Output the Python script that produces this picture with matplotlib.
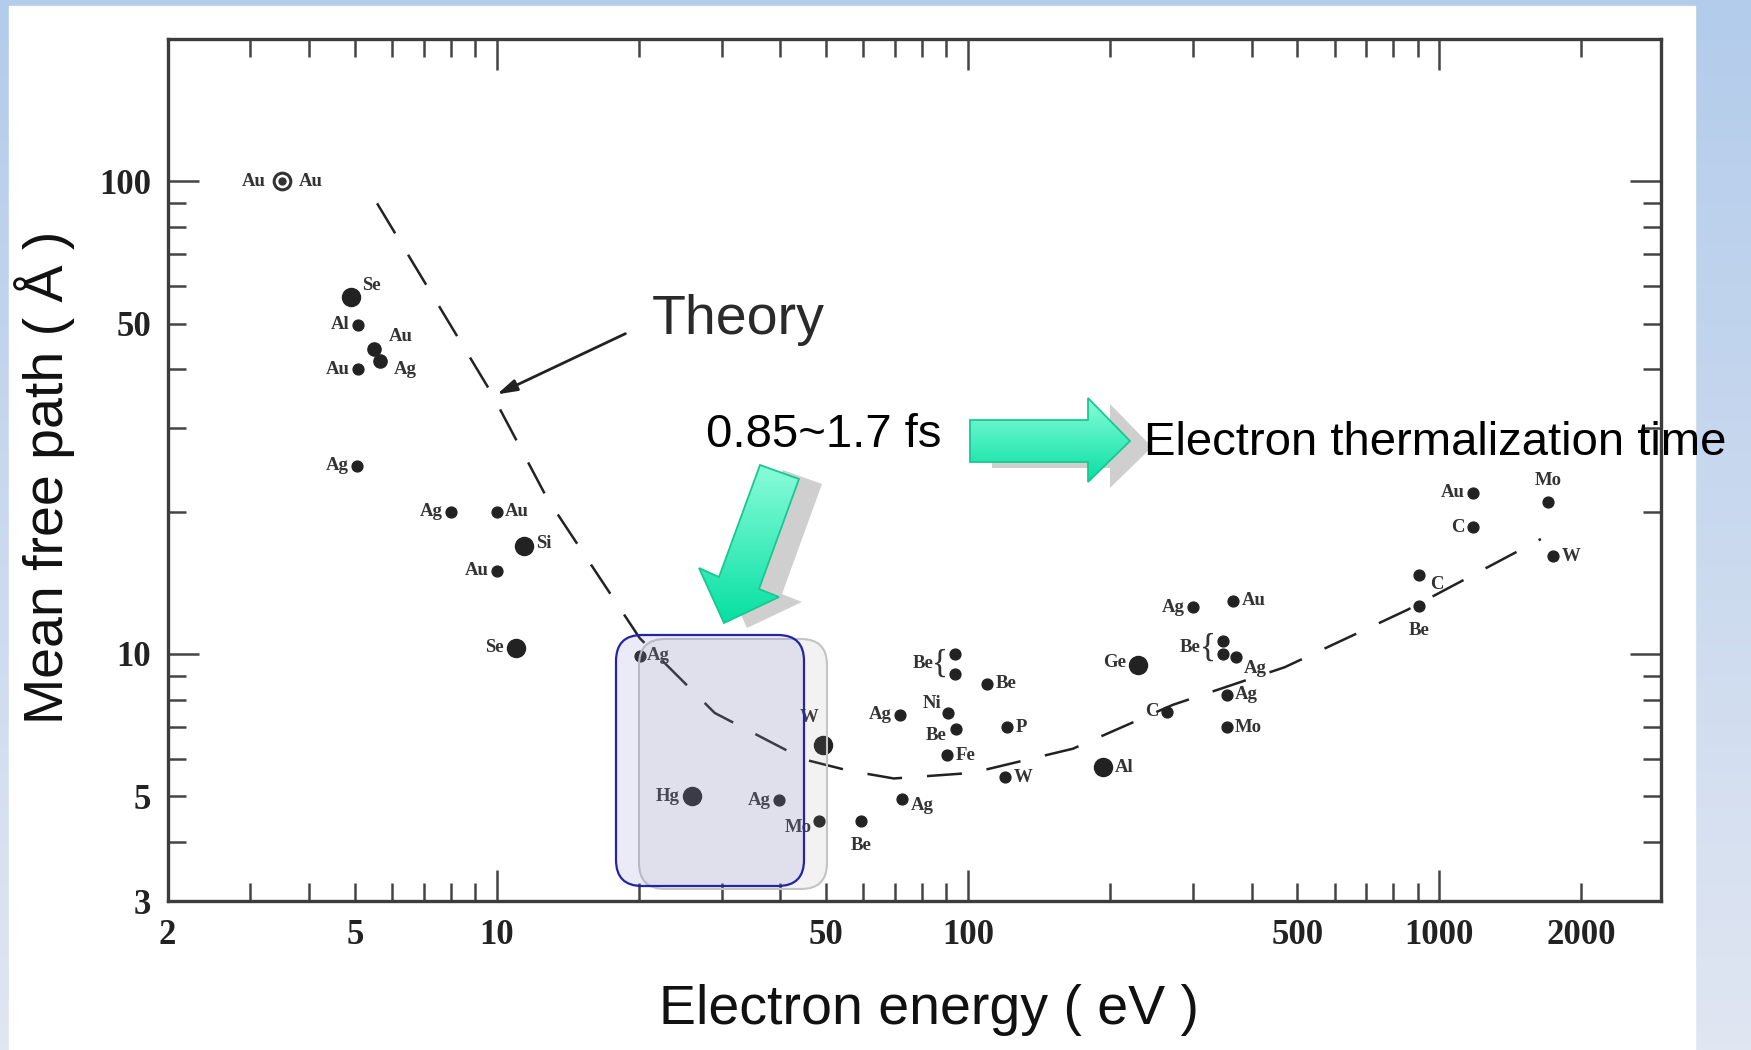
import numpy as np
import matplotlib
matplotlib.use('Agg')
import matplotlib.pyplot as plt
from matplotlib.patches import Polygon, FancyBboxPatch, Rectangle
from matplotlib.colors import LinearSegmentedColormap

plt.rcParams['font.family'] = ['Liberation Sans', 'DejaVu Sans']

# measured points: electron energy (eV), mean free path (A), element
energy = [3.5, 4.9, 5.08, 5.5, 5.66, 5.08, 5.05, 8.0, 10, 11.4, 10, 11,
          20.1, 26, 39.8, 49.3, 48.2, 59.3, 71.8, 90.8, 94.4, 94, 94, 110,
          121, 90.4, 72.6, 120, 193, 230, 264, 301, 366, 347, 347, 370,
          354, 354, 906, 906, 1178, 1178, 1706, 1744]
mfp = [100, 57, 49.7, 44.2, 41.6, 40, 25, 20, 20, 16.9, 15, 10.3,
       9.9, 5.0, 4.9, 6.4, 4.42, 4.42, 7.43, 7.5, 6.95, 10.0, 9.07, 8.64,
       7.0, 6.1, 4.92, 5.48, 5.75, 9.47, 7.55, 12.56, 12.97, 10.67, 10.0, 9.84,
       8.19, 7.0, 14.7, 12.6, 18.55, 21.9, 21.0, 16.1]
element = ['Au', 'Se', 'Al', 'Au', 'Ag', 'Au', 'Ag', 'Ag', 'Au', 'Si', 'Au', 'Se',
           'Ag', 'Hg', 'Ag', 'W', 'Mo', 'Be', 'Ag', 'Ni', 'Be', 'Be', 'Be', 'Be',
           'P', 'Fe', 'Ag', 'W', 'Al', 'Ge', 'C', 'Ag', 'Au', 'Be', 'Be', 'Ag',
           'Ag', 'Mo', 'C', 'Be', 'C', 'Au', 'Mo', 'W']

# theory ("universal curve")
theory_energy = [5.57, 9.73, 12.8, 20.1, 29.0, 44.9, 55.9, 69.6, 102, 167, 272, 470, 857, 1644]
theory_mfp = [89.8, 35.7, 21.3, 10.8, 7.5, 5.98, 5.66, 5.45, 5.6, 6.3, 7.8, 9.37, 12.4, 17.5]

x_major = [10, 100, 1000]
x_minor = [2, 3, 4, 5, 6, 7, 8, 9, 20, 30, 40, 50, 60, 70, 80, 90,
           200, 300, 400, 500, 600, 700, 800, 900, 2000]
x_minor_labels = {2: '2', 5: '5', 50: '50', 500: '500', 2000: '2000'}
y_major = [10, 100]
y_minor = [3, 4, 5, 6, 7, 8, 9, 20, 30, 40, 50, 60, 70, 80, 90]
y_minor_labels = {3: '3', 5: '5', 50: '50'}

# marker style / label placement (offset points, alignment)
big = [1, 9, 11, 13, 15, 28, 29]
medium = [3, 4]
circled = [0]
label_pos = {
    0: [(-12, 0, 'right'), (12, 0, 'left')],
    1: [(8, 8, 'left')], 2: [(-6, 0, 'right')], 3: [(10, 9, 'left')],
    4: [(10, -6, 'left')], 5: [(-6, 0, 'right')], 6: [(-6, 0, 'right')],
    7: [(-6, 0, 'right')], 8: [(6, 0, 'left')], 9: [(9, 2, 'left')],
    10: [(-6, 0, 'right')], 11: [(-9, 0, 'right')], 12: [(5, 0, 'left')],
    13: [(-9, 0, 'right')], 14: [(-6, 0, 'right')], 15: [(-10, 20, 'center')],
    16: [(-5, -4, 'right')], 17: [(0, -17, 'center')], 18: [(-6, 0, 'right')],
    19: [(-5, 7, 'right')], 20: [(-7, -5, 'right')], 23: [(6, 0, 'left')],
    24: [(6, 0, 'left')], 25: [(6, 0, 'left')], 26: [(6, -4, 'left')],
    27: [(6, 0, 'left')], 28: [(9, 0, 'left')], 29: [(-9, 2, 'right')],
    30: [(-6, 0, 'right')], 31: [(-6, 0, 'right')], 32: [(6, 0, 'left')],
    35: [(6, -8, 'left')], 36: [(6, 0, 'left')], 37: [(6, 0, 'left')],
    38: [(8, -7, 'left')], 39: [(0, -17, 'center')], 40: [(-6, 0, 'right')],
    41: [(-6, 0, 'right')], 42: [(0, 15, 'center')], 43: [(6, 0, 'left')],
}
braces = [(21, 22), (33, 34)]

W, H = 1751, 1050
fig = plt.figure(figsize=(W / 100, H / 100), dpi=100)

# slide background
bg = fig.add_axes([0, 0, 1, 1], zorder=0)
grad = np.linspace(0, 1, 256).reshape(-1, 1)
bg_cmap = LinearSegmentedColormap.from_list('bg', ['#b3cceb', '#e0e6f2'])
bg.imshow(grad, cmap=bg_cmap, extent=(0, W, H, 0), aspect='auto', origin='upper')
bg.add_patch(Rectangle((9, 6), 1695 - 9, H - 6, color='white'))
bg.set_xlim(0, W)
bg.set_ylim(H, 0)
bg.axis('off')

# main plot
ax = fig.add_axes([167.5 / W, 1 - 901 / H, (1660.5 - 167.5) / W, (901 - 39) / H], zorder=1)
ax.set_facecolor('none')
ax.set_xscale('log')
ax.set_yscale('log')
ax.set_xlim(2, 2950)
ax.set_ylim(3, 200)

ax.set_xticks(x_major, labels=[str(v) for v in x_major])
ax.set_xticks(x_minor, labels=[x_minor_labels.get(v, '') for v in x_minor], minor=True)
ax.set_yticks(y_major, labels=[str(v) for v in y_major])
ax.set_yticks(y_minor, labels=[y_minor_labels.get(v, '') for v in y_minor], minor=True)
ax.tick_params(which='both', direction='in', top=True, right=True, width=1.8,
               color='#444444', labelcolor='#222222', labelsize=25,
               labelfontfamily='Liberation Serif')
ax.tick_params(which='major', length=22)
ax.tick_params(which='minor', length=13)
ax.tick_params(axis='x', which='both', pad=13)
ax.tick_params(axis='y', which='both', pad=12)
for lab in ax.get_xticklabels(which='both') + ax.get_yticklabels(which='both'):
    lab.set_fontweight('bold')
for sp in ax.spines.values():
    sp.set_linewidth(2.4)
    sp.set_color('#3c3c3c')

ax.plot(theory_energy, theory_mfp, color='#222222', lw=1.8, dashes=(14, 10), zorder=2)

for i, (e, m) in enumerate(zip(energy, mfp)):
    if i in circled:
        ax.plot(e, m, 'o', ms=12, mfc='white', mec='#333333', mew=2.2, zorder=3)
        ax.plot(e, m, 'o', ms=5, color='#333333', zorder=3)
    else:
        ms = 13 if i in big else (9.5 if i in medium else 7.8)
        ax.plot(e, m, 'o', ms=ms, color='#222222', zorder=3)
    for dx, dy, ha in label_pos.get(i, []):
        ax.annotate(element[i], (e, m), xytext=(dx, dy), textcoords='offset points',
                    ha=ha, va='center', fontsize=13.5, fontweight='bold',
                    family='Liberation Serif', color='#333333')

for a, b in braces:
    mid = np.sqrt(mfp[a] * mfp[b])
    ax.annotate('{', (energy[a], mid), xytext=(-5, 0), textcoords='offset points',
                ha='right', va='center', fontsize=24, family='Liberation Serif', color='#333333')
    ax.annotate(element[a], (energy[a], mid), xytext=(-16, 0), textcoords='offset points',
                ha='right', va='center', fontsize=13.5, fontweight='bold',
                family='Liberation Serif', color='#333333')

ax.annotate('', xy=(10, 35.4), xytext=(18.75, 47.6),
            arrowprops=dict(arrowstyle='-|>,head_length=1.2,head_width=0.35',
                            color='#222222', lw=2, shrinkA=0, shrinkB=0))
ax.text(21.3, 50.9, 'Theory', fontsize=40, color='#2a2a2a', va='center', ha='left')

# overlay in pixel coordinates
ov = fig.add_axes([0, 0, 1, 1], zorder=2)
ov.axis('off')
ov.patch.set_alpha(0)

ov.add_patch(FancyBboxPatch((639, 639), 827 - 639, 889 - 639,
                            boxstyle='round,pad=0,rounding_size=26', zorder=1,
                            facecolor=(0.6, 0.6, 0.6, 0.12), edgecolor='#c4c4c4', lw=1.5))
ov.add_patch(FancyBboxPatch((616, 635), 804 - 616, 886 - 635,
                            boxstyle='round,pad=0,rounding_size=26', zorder=1,
                            facecolor=(0.49, 0.49, 0.84, 0.15), edgecolor='#2424a8', lw=1.6))

arrow_cmap = LinearSegmentedColormap.from_list('ar', ['#8afcda', '#06e0a2'])


def block_arrow(pts, shadow):
    pts = np.array(pts, dtype=float)
    ov.add_patch(Polygon(pts + shadow, closed=True, facecolor='#cfcfcf',
                         edgecolor='none', zorder=1))
    clip = Polygon(pts, closed=True, facecolor='none', edgecolor='none', zorder=1)
    ov.add_patch(clip)
    x0, y0 = pts.min(axis=0)
    x1, y1 = pts.max(axis=0)
    im = ov.imshow(grad, cmap=arrow_cmap, extent=(x0, x1, y1, y0), aspect='auto',
                   origin='upper', zorder=2)
    im.set_clip_path(clip)
    ov.add_patch(Polygon(pts, closed=True, facecolor='none', edgecolor='#17c892',
                         lw=1.3, zorder=3))


block_arrow([(970, 420), (1088, 420), (1088, 398), (1130, 441), (1088, 482), (1088, 462), (970, 462)],
            np.array([22, 6]))
block_arrow([(760, 465), (799, 479), (759, 589), (779, 597), (724, 623), (699, 568), (719, 577)],
            np.array([23, 5]))
ov.set_xlim(0, W)
ov.set_ylim(H, 0)

ov.text(706, 435, '0.85~1.7 fs', fontsize=34, va='center', ha='left', color='black', zorder=4)
ov.text(1144, 443, 'Electron thermalization time', fontsize=34, va='center', ha='left',
        color='black', zorder=4)
ov.text(929, 1010, 'Electron energy ( eV )', fontsize=40, ha='center', va='center',
        color='#111111', zorder=4)
ov.text(45, 477, 'Mean free path ( Å )', fontsize=40, rotation=90, ha='center', va='center',
        color='#111111', zorder=4)

fig.savefig('out.png', dpi=100)
